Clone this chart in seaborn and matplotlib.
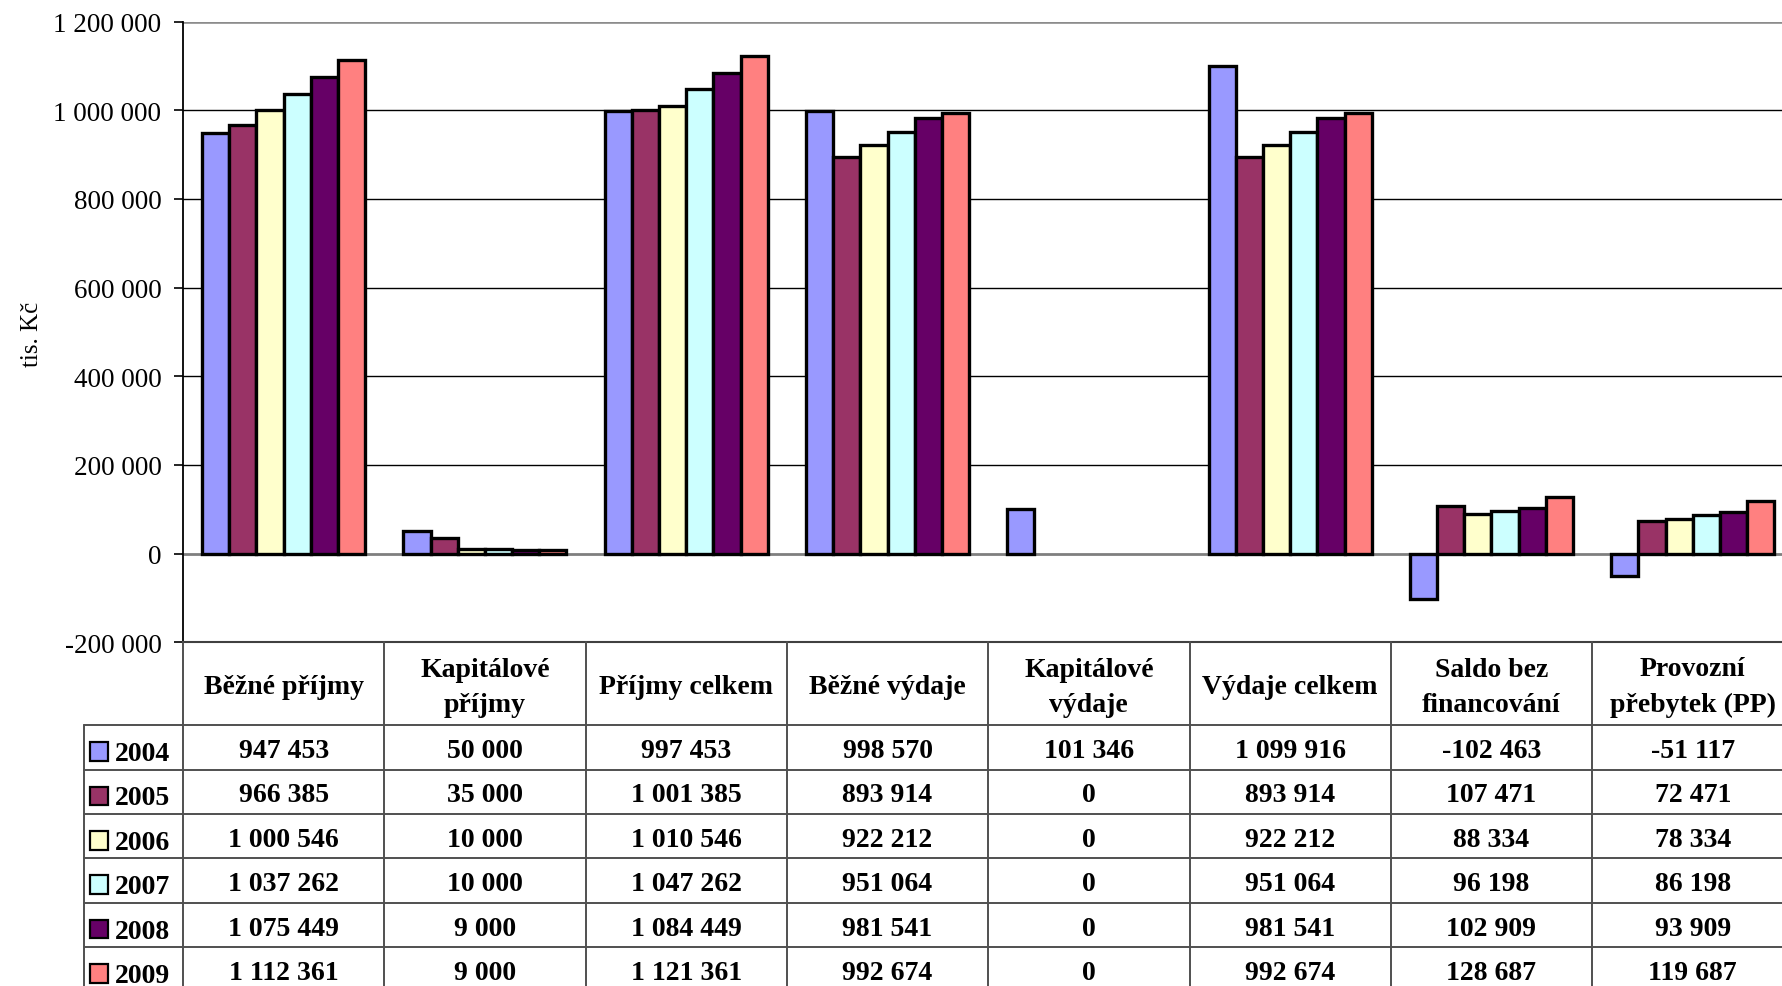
import matplotlib
matplotlib.use("Agg")
import matplotlib.pyplot as plt
from matplotlib.patches import Rectangle
from matplotlib.ticker import FuncFormatter
import numpy as np
import pandas as pd
import seaborn as sns

# Budget categories (table header) and years
categories = ["Běžné příjmy", "Kapitálové\npříjmy", "Příjmy celkem", "Běžné výdaje",
              "Kapitálové\nvýdaje", "Výdaje celkem", "Saldo bez\nfinancování",
              "Provozní\npřebytek (PP)"]
years = ["2004", "2005", "2006", "2007", "2008", "2009"]

# Values in thousands of CZK, one list per year, in category order
v2004 = [947453, 50000, 997453, 998570, 101346, 1099916, -102463, -51117]
v2005 = [966385, 35000, 1001385, 893914, 0, 893914, 107471, 72471]
v2006 = [1000546, 10000, 1010546, 922212, 0, 922212, 88334, 78334]
v2007 = [1037262, 10000, 1047262, 951064, 0, 951064, 96198, 86198]
v2008 = [1075449, 9000, 1084449, 981541, 0, 981541, 102909, 93909]
v2009 = [1112361, 9000, 1121361, 992674, 0, 992674, 128687, 119687]
series = [v2004, v2005, v2006, v2007, v2008, v2009]

colors = ["#9999FF", "#993366", "#FFFFCC", "#CCFFFF", "#660066", "#FF8080"]
y_ticks = [-200000, 0, 200000, 400000, 600000, 800000, 1000000, 1200000]
y_label = "tis. Kč"

df = pd.DataFrame(
    [(c, y, v) for y, vals in zip(years, series) for c, v in zip(categories, vals)],
    columns=["kategorie", "rok", "hodnota"],
)

def fmt(v):
    return f"{v:,.0f}".replace(",", " ")

sns.set_theme(style="white")
plt.rcParams["font.family"] = ["Liberation Serif", "DejaVu Serif"]

W, H = 1782, 987
fig = plt.figure(figsize=(W / 100, H / 100), dpi=100)

x0, colw = 183.0, 201.3
ytop, ybot = 22.5, 643.3
ax = fig.add_axes([x0 / W, 1 - ybot / H, 8 * colw / W, (ybot - ytop) / H])

sns.barplot(data=df, x="kategorie", y="hodnota", hue="rok", order=categories,
            hue_order=years, palette=colors, saturation=1, width=0.81,
            edgecolor="black", linewidth=2.4, legend=False, errorbar=None, ax=ax)

# zero-valued bars are not drawn at all
for p in ax.patches:
    if p.get_height() == 0:
        p.set_visible(False)

ax.set_xlim(-0.5, 7.5)
ax.set_ylim(y_ticks[0], y_ticks[-1])
ax.set_yticks(y_ticks)
ax.yaxis.set_major_formatter(FuncFormatter(lambda v, _: fmt(v)))
ax.set_xticks([])
ax.set_xlabel("")
ax.set_ylabel("")
ax.tick_params(axis="y", left=True, direction="out", length=6.5, width=1.2,
               pad=9, labelsize=19.5, color="black", labelcolor="black")

for t in y_ticks[1:]:
    if t == 0:
        ax.axhline(t, color="#7f7f7f", lw=2.0, zorder=0.5)
    elif t == y_ticks[-1]:
        ax.axhline(t, color="#8c8c8c", lw=2.6, zorder=0.5)
    else:
        ax.axhline(t, color="black", lw=1.0, zorder=0.5)

for s in ["top", "right"]:
    ax.spines[s].set_visible(False)
ax.spines["left"].set_color("black")
ax.spines["left"].set_linewidth(1.3)
ax.spines["bottom"].set_color("#404040")
ax.spines["bottom"].set_linewidth(1.5)

fig.text(32 / W, 1 - 334 / H, y_label, rotation=90, ha="center", va="center",
         fontsize=18, color="black")

# Data table below the plot
head_h, row_h = 83.0, 44.4
tab_h = head_h + len(years) * row_h
tax = fig.add_axes([x0 / W, 1 - (ybot + tab_h) / H, 8 * colw / W, tab_h / H])
tax.set_xlim(-0.5, 7.5)
tax.set_ylim(tab_h, 0)
tax.axis("off")

leg_left = -0.5 - (x0 - 84) / colw
line_kw = dict(color="#505050", lw=1.4, clip_on=False)

for i in range(len(years) + 1):
    y = head_h + i * row_h
    tax.plot([leg_left, 7.6], [y, y], **line_kw)
for k in range(9):
    tax.plot([k - 0.5, k - 0.5], [0, tab_h + 5], **line_kw)
tax.plot([leg_left, leg_left], [head_h, tab_h + 5], **line_kw)

for k, c in enumerate(categories):
    tax.text(k, head_h / 2 + 3, c, ha="center", va="center", fontsize=20,
             fontweight="bold", linespacing=1.55, color="black", clip_on=False)

for i, (yr, vals, col) in enumerate(zip(years, series, colors)):
    yc = head_h + (i + 0.5) * row_h
    sq = 18.5
    tax.add_patch(Rectangle((leg_left + 6 / colw, yc + 4 - sq / 2), sq / colw, sq,
                            facecolor=col, edgecolor="black", lw=1.6, clip_on=False))
    tax.text(leg_left + 31 / colw, yc + 6, yr, ha="left", va="center",
             fontsize=20, fontweight="bold", color="black", clip_on=False)
    for k, v in enumerate(vals):
        tax.text(k, yc + 3, fmt(v), ha="center", va="center", fontsize=20,
                 fontweight="bold", color="black", clip_on=False)

fig.savefig("out.png", dpi=100, facecolor="white")
